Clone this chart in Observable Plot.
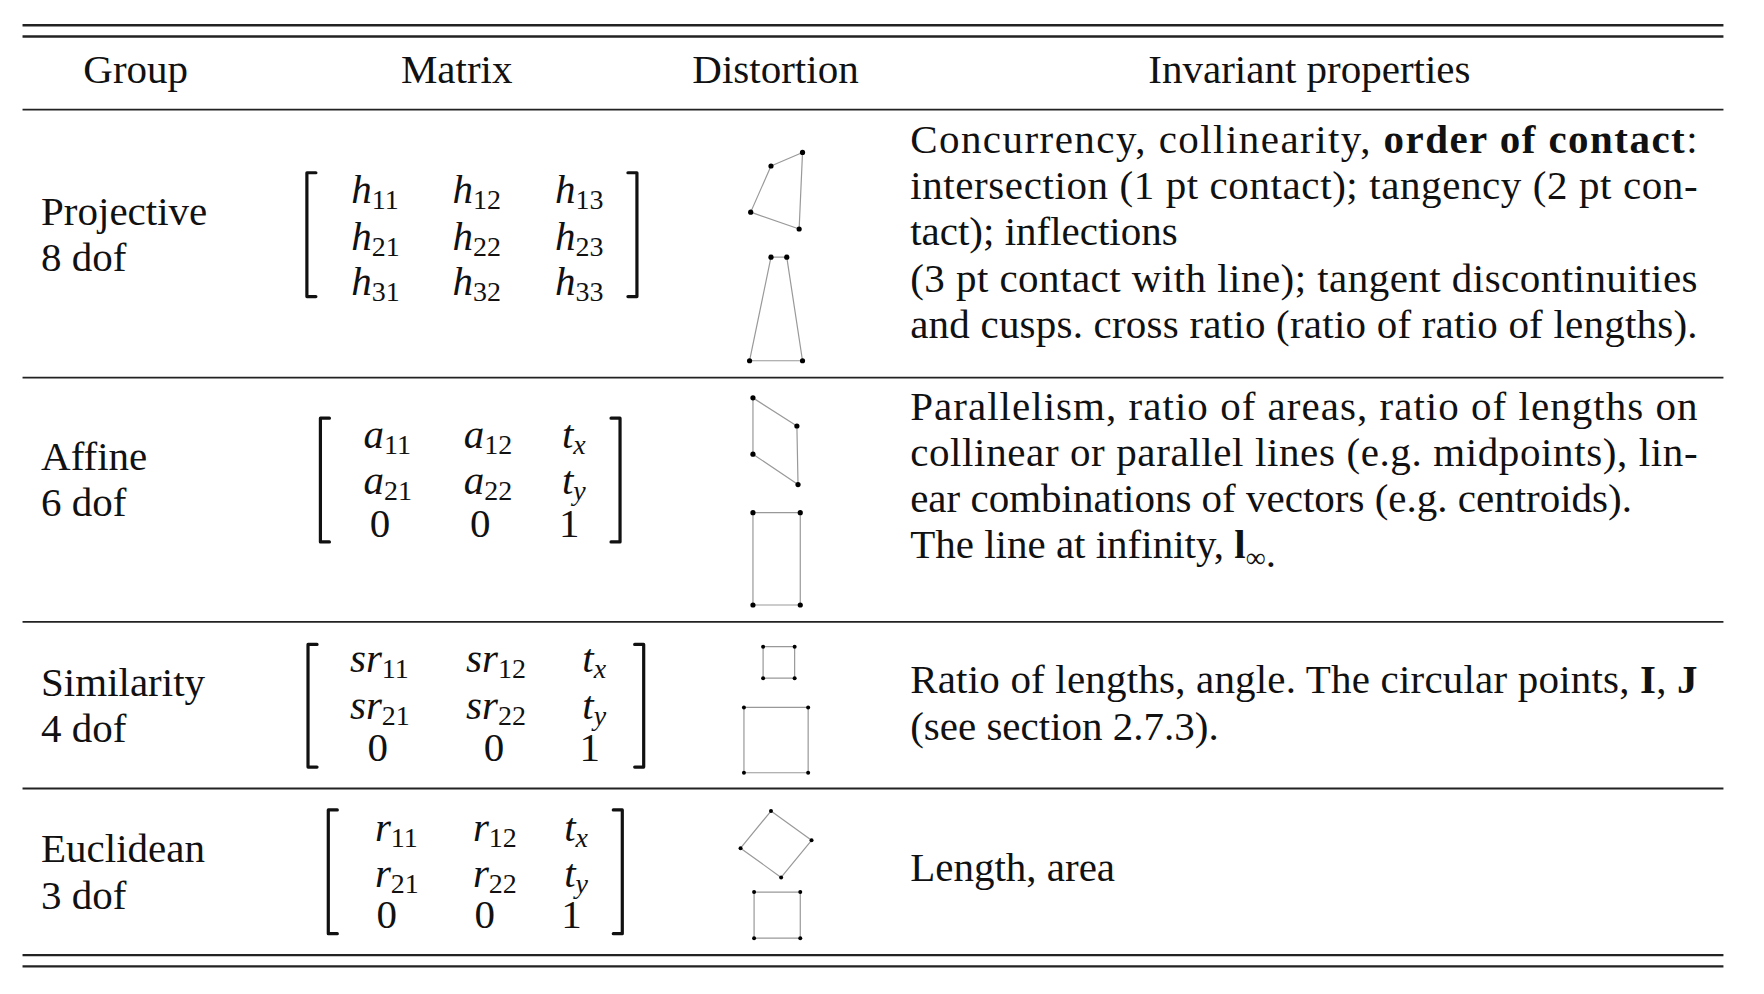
<!DOCTYPE html>
<html>
<head>
<meta charset="utf-8">
<script src="https://cdn.jsdelivr.net/npm/d3@7"></script>
<script src="https://cdn.jsdelivr.net/npm/@observablehq/plot@0.6"></script>
<style>
  body { margin: 0; background: #fff; }
  svg { font-family: "Liberation Serif", "DejaVu Serif", serif; }
</style>
</head>
<body>
<div id="chart"></div>
<script>
// ---------- table layout, in the picture's own units ----------
const rules = [
  {y: 22, w: 2.4}, {y: 32, w: 2.4}, {y: 97, w: 1.8},
  {y: 335, w: 1.8}, {y: 552, w: 1.8}, {y: 700, w: 1.8},
  {y: 848, w: 2.4}, {y: 858, w: 2.4}
];
const headers = [
  {x: 120, y: 62, t: "Group"}, {x: 405, y: 62, t: "Matrix"},
  {x: 688, y: 62, t: "Distortion"}, {x: 1162, y: 62, t: "Invariant properties"}
];
const groups = [
  {t: "Projective", y: 188}, {t: "8 dof", y: 229},
  {t: "Affine", y: 405}, {t: "6 dof", y: 446},
  {t: "Similarity", y: 606}, {t: "4 dof", y: 647},
  {t: "Euclidean", y: 754}, {t: "3 dof", y: 795}
];

// matrix entries: base symbol, subscript
const matrixCols = [[326, 416, 507], [337, 426, 505], [335, 438, 523], [343, 430, 507]];
const matrixRows = [[168, 210, 250], [386, 427, 465], [585, 627, 664], [735, 776, 812]];
const matrixCells = [
  [["h","11"],["h","12"],["h","13"],["h","21"],["h","22"],["h","23"],["h","31"],["h","32"],["h","33"]],
  [["a","11"],["a","12"],["t","x"],["a","21"],["a","22"],["t","y"],["0",""],["0",""],["1",""]],
  [["sr","11"],["sr","12"],["t","x"],["sr","21"],["sr","22"],["t","y"],["0",""],["0",""],["1",""]],
  [["r","11"],["r","12"],["t","x"],["r","21"],["r","22"],["t","y"],["0",""],["0",""],["1",""]]
];
const bracketLeft  = [272, 284, 273, 291];
const bracketRight = [565, 550, 571, 552];
const bracketTop   = [153, 371, 572, 719];
const bracketBot   = [263, 481, 681, 829];

// distortion shapes
const shapes = [
  {id: "proj1", pts: [[684,147],[712,135],[709,203],[666,188]], r: 2.6},
  {id: "proj2", pts: [[684,228],[698,228],[712,320],[665,320]], r: 2.6},
  {id: "aff1",  pts: [[668,353],[707,378],[708,430],[668,403]], r: 2.6},
  {id: "aff2",  pts: [[668,455],[710,455],[710,537],[668,537]], r: 2.6},
  {id: "sim1",  pts: [[677,574],[705,574],[705,602],[677,602]], r: 2},
  {id: "sim2",  pts: [[660,628],[717,628],[717,686],[660,686]], r: 2},
  {id: "euc1",  pts: [[684,720],[720,746],[693,779],[657,753]], r: 2},
  {id: "euc2",  pts: [[669,792],[710,792],[710,833],[669,833]], r: 2}
];

// invariant properties: segments [text, style], justify flag
const invX0 = 808, invX1 = 1507;
const invLines = [
  {y: 124, j: true,  seg: [["Concurrency, collinearity, "], ["order of contact", "b"], [":"]]},
  {y: 165, j: true,  seg: [["intersection (1 pt contact); tangency (2 pt con-"]]},
  {y: 206, j: false, seg: [["tact); inflections"]]},
  {y: 247, j: true,  seg: [["(3 pt contact with line); tangent discontinuities"]]},
  {y: 288, j: true,  seg: [["and cusps. cross ratio (ratio of ratio of lengths)."]]},
  {y: 361, j: true,  seg: [["Parallelism, ratio of areas, ratio of lengths on"]]},
  {y: 402, j: true,  seg: [["collinear or parallel lines (e.g. midpoints), lin-"]]},
  {y: 443, j: false, seg: [["ear combinations of vectors (e.g. centroids)."]]},
  {y: 484, j: false, seg: [["The line at infinity, "], ["l", "b"], ["∞", "sub"], ["."]]},
  {y: 604, j: true,  seg: [["Ratio of lengths, angle. The circular points, "], ["I", "b"], [", "], ["J", "b"]]},
  {y: 645, j: false, seg: [["(see section 2.7.3)."]]},
  {y: 771, j: false, seg: [["Length, area"]]}
];

// ---------- derived tables ----------
const cells = matrixCells.flatMap((row, g) => row.map(([b, s], i) => ({
  x: matrixCols[g][i % 3], y: matrixRows[g][Math.floor(i / 3)], b, s,
  italic: !/^\d$/.test(b)
})));
const brackets = bracketLeft.flatMap((xl, g) => {
  const xr = bracketRight[g], t = bracketTop[g], b = bracketBot[g];
  return [
    {z: `L${g}`, x: xl + 8, y: t}, {z: `L${g}`, x: xl, y: t}, {z: `L${g}`, x: xl, y: b}, {z: `L${g}`, x: xl + 8, y: b},
    {z: `R${g}`, x: xr - 8, y: t}, {z: `R${g}`, x: xr, y: t}, {z: `R${g}`, x: xr, y: b}, {z: `R${g}`, x: xr - 8, y: b}
  ];
});
const shapeLines = shapes.flatMap(s => [...s.pts, s.pts[0]].map(([x, y]) => ({z: s.id, x, y})));
const shapeDots = shapes.flatMap(s => s.pts.map(([x, y]) => ({x, y, r: s.r})));

const FS = 41, SUB = 28;
const plot = Plot.plot({
  width: 1764, height: 994,
  marginTop: 0, marginBottom: 0, marginLeft: 0, marginRight: 0,
  x: {domain: [0, 1566], range: [0, 1764], axis: null},
  y: {domain: [0, 883], range: [0, 994], axis: null},
  r: {type: "identity"},
  style: {fontFamily: "Liberation Serif, DejaVu Serif, serif", background: "white"},
  marks: [
    Plot.ruleY(rules, {y: "y", x1: 20, x2: 1530, stroke: "#222", strokeWidth: "w"}),
    Plot.text(headers, {x: "x", y: "y", text: "t", fontSize: FS, fill: "#111"}),
    Plot.text(groups, {x: 36, y: "y", text: "t", fontSize: FS, textAnchor: "start", fill: "#111"}),
    Plot.text(cells.filter(d => d.italic), {x: "x", y: "y", text: "b", fontSize: FS, fontStyle: "italic", textAnchor: "end", dx: 4, fill: "#111"}),
    Plot.text(cells.filter(d => !d.italic), {x: "x", y: "y", text: "b", fontSize: FS, fill: "#111"}),
    Plot.text(cells.filter(d => /^\d+$/.test(d.s)), {x: "x", y: "y", text: "s", fontSize: SUB, textAnchor: "start", dx: 4, dy: 10, fill: "#111"}),
    Plot.text(cells.filter(d => /^[xy]$/.test(d.s)), {x: "x", y: "y", text: "s", fontSize: SUB, fontStyle: "italic", textAnchor: "start", dx: 4, dy: 10, fill: "#111"}),
    Plot.line(brackets, {x: "x", y: "y", z: "z", stroke: "#111", strokeWidth: 3.2, curve: "linear"}),
    Plot.line(shapeLines, {x: "x", y: "y", z: "z", stroke: "#999", strokeWidth: 1.2}),
    Plot.dot(shapeDots, {x: "x", y: "y", r: "r", fill: "#000"})
  ]
});
document.getElementById("chart").appendChild(plot);

// invariant-property paragraphs: mixed bold / subscript runs, placed with the plot's scales
const sx = plot.scale("x"), sy = plot.scale("y");
const g = d3.select(plot).append("g")
  .attr("font-size", FS).attr("fill", "#111").attr("text-anchor", "start");
invLines.forEach(line => {
  const t = g.append("text")
    .attr("x", sx.apply(invX0)).attr("y", sy.apply(line.y)).attr("dy", "0.33em");
  line.seg.forEach(([txt, st]) => {
    const sp = t.append("tspan").text(txt);
    if (st === "b") sp.attr("font-weight", "bold");
    if (st === "sub") sp.attr("font-size", SUB).attr("dy", 9);
  });
  if (line.j) {
    t.attr("textLength", sx.apply(invX1) - sx.apply(invX0)).attr("lengthAdjust", "spacing");
  }
});
</script>
</body>
</html>
